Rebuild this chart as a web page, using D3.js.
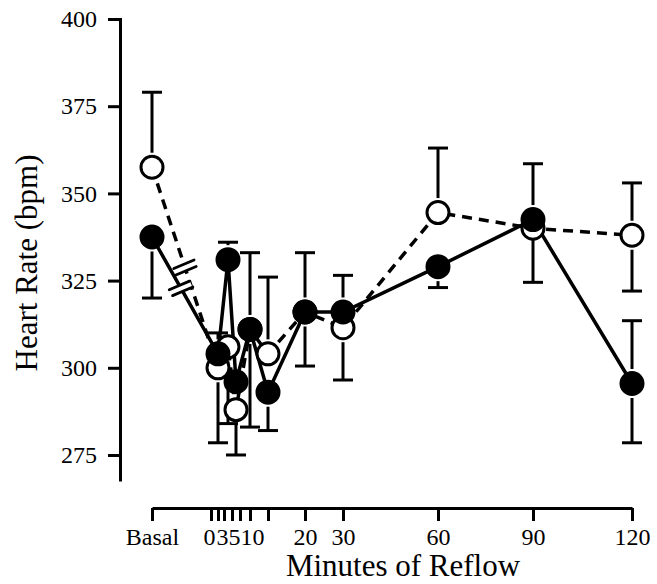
<!DOCTYPE html>
<html><head><meta charset="utf-8">
<script src="https://cdn.jsdelivr.net/npm/d3@7"></script>
<style>body{margin:0;background:#fff}svg{display:block}text{font-family:"Liberation Serif","Times New Roman",serif;fill:#000}</style>
</head><body>
<script>
// ---- data ----
const pointTimes = ["Basal", 1, 2.5, 3.5, 5, 10, 20, 30, 60, 90, 120];
const filledMean = [337.5, 304, 331, 296, 311, 293, 316, 316, 329, 342.5, 295.5];
const filledHi   = [null, 310, 336, null, 333, null, 333, 326.5, null, 358.5, 313.5];
const filledLo   = [320, null, null, null, 283, 282, 300.5, null, 323, 324.5, 278.5];
const openMean   = [357.5, 300, 306, 288, 311, 304, 316, 311.5, 344.5, 340, 338];
const openHi     = [379, null, null, null, null, 326, null, null, 363, null, 353];
const openLo     = [null, 278.5, 284, 275, null, null, null, 296.5, null, null, 322];
const xTickValues = ["Basal", 0, 1, 2, 3, 4, 5, 10, 20, 30, 60, 90, 120];
const xTickLabels = ["Basal", "0", "", "", "3", "", "5", "10", "20", "30", "60", "90", "120"];
const yTickValues = [275, 300, 325, 350, 375, 400];

// ---- layout ----
const W = 657, H = 584;
const basalNode = -10;
const xNodes  = [basalNode, 0, 1, 2, 3, 4, 5, 10, 20, 30, 60, 90, 120];
const xPixels = [152, 211, 218, 224, 232, 240, 250, 268, 305, 343, 438, 533, 632];
const xLabelShift = {0: -2, 3: -10, 5: -16, 10: -16};
const axisY = 508, axisX = 120;

const x = d3.scaleLinear().domain(xNodes).range(xPixels);
const xv = t => x(t === "Basal" ? basalNode : t);
const y = d3.scaleLinear().domain([400, 268]).range([19, 479.4]);

const svg = d3.select("body").append("svg").attr("width", W).attr("height", H);

// axes
const yAxis = d3.axisLeft(y).tickValues(yTickValues).tickSize(12).tickSizeOuter(0).tickPadding(11);
const gy = svg.append("g").attr("transform", `translate(${axisX},0)`).call(yAxis);
gy.selectAll("path,line").attr("stroke", "#000").attr("stroke-width", 3);
gy.select(".domain").attr("stroke-linecap", "square");
gy.selectAll("text").attr("font-size", 24).attr("font-family", "Liberation Serif").attr("fill", "#000");

const xAxis = d3.axisBottom(x)
  .tickValues(xTickValues.map(t => t === "Basal" ? basalNode : t))
  .tickFormat((d, i) => xTickLabels[i])
  .tickSize(13).tickSizeOuter(0).tickPadding(7);
const gx = svg.append("g").attr("transform", `translate(0,${axisY})`).call(xAxis);
gx.selectAll("path,line").attr("stroke", "#000").attr("stroke-width", 3);
gx.selectAll("text").attr("font-size", 24).attr("font-family", "Liberation Serif").attr("fill", "#000")
  .attr("dx", (d) => xLabelShift[d] || 0);

// titles
svg.append("text").attr("x", 403).attr("y", 576).attr("text-anchor", "middle")
  .attr("font-size", 31).text("Minutes of Reflow");
svg.append("text").attr("transform", "translate(37,263) rotate(-90)").attr("text-anchor", "middle")
  .attr("font-size", 31).text("Heart Rate (bpm)");

// series
const series = [
  {name: "open", mean: openMean, hi: openHi, lo: openLo, dash: "10,7", fill: "#fff", breakFrac: 0.5},
  {name: "filled", mean: filledMean, hi: filledHi, lo: filledLo, dash: null, fill: "#000", breakFrac: 0.44}
];
const R = 11, SW = 3;

const line = d3.line().x(d => xv(d.t)).y(d => y(d.v));
series.forEach(s => {
  s.pts = pointTimes.map((t, i) => ({t, v: s.mean[i], hi: s.hi[i], lo: s.lo[i]}));
});

// lines
series.forEach(s => {
  svg.append("path").datum(s.pts).attr("d", line)
    .attr("fill", "none").attr("stroke", "#000").attr("stroke-width", 3.5)
    .attr("stroke-dasharray", s.dash);
});

// break marks on first segment
series.forEach(s => {
  const a = s.pts[0], b = s.pts[1];
  const x0 = xv(a.t), y0 = y(a.v), x1 = xv(b.t), y1 = y(b.v);
  const cx = x0 + (x1 - x0) * s.breakFrac, cy = y0 + (y1 - y0) * s.breakFrac;
  const len = Math.hypot(x1 - x0, y1 - y0);
  const ux = (x1 - x0) / len, uy = (y1 - y0) / len;
  const ang = -23 * Math.PI / 180;
  const mx = Math.cos(ang), my = Math.sin(ang);
  const half = 11, gap = 3.4;
  const g = svg.append("g");
  g.append("line").attr("x1", cx - mx * half).attr("y1", cy - my * half)
    .attr("x2", cx + mx * half).attr("y2", cy + my * half)
    .attr("stroke", "#fff").attr("stroke-width", gap * 2);
  [-1, 1].forEach(k => {
    const px = cx + k * gap * ux, py = cy + k * gap * uy;
    g.append("line").attr("x1", px - mx * half).attr("y1", py - my * half)
      .attr("x2", px + mx * half).attr("y2", py + my * half)
      .attr("stroke", "#000").attr("stroke-width", 2.8).attr("stroke-linecap", "round");
  });
});

// error bars
const capW = 10;
series.forEach(s => {
  s.pts.forEach(p => {
    const px = xv(p.t), py = y(p.v);
    [["hi", -1], ["lo", 1]].forEach(([k, dir]) => {
      if (p[k] == null) return;
      const ey = y(p[k]);
      const start = py + dir * (R + SW / 2 + 2);
      if ((ey - start) * dir > 0) {
        svg.append("line").attr("x1", px).attr("x2", px).attr("y1", start).attr("y2", ey)
          .attr("stroke", "#000").attr("stroke-width", 3);
      }
      svg.append("line").attr("x1", px - capW).attr("x2", px + capW).attr("y1", ey).attr("y2", ey)
        .attr("stroke", "#000").attr("stroke-width", 3);
    });
  });
});

// markers
series.forEach(s => {
  svg.append("g").selectAll("circle").data(s.pts).join("circle")
    .attr("cx", d => xv(d.t)).attr("cy", d => y(d.v)).attr("r", R)
    .attr("fill", s.fill).attr("stroke", "#000").attr("stroke-width", SW);
});
</script>
</body></html>
